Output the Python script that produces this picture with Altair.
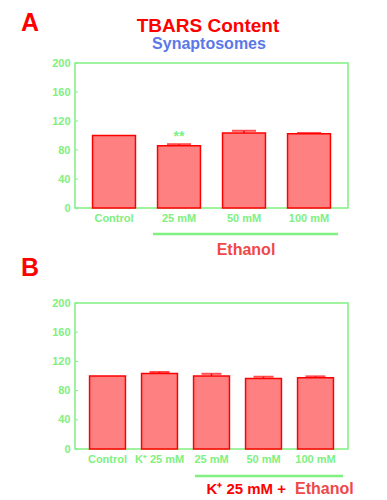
import altair as alt
import pandas as pd

# ---- data ----
a_groups = ["Control", "25 mM", "50 mM", "100 mM"]
a_values = [100, 86, 103.5, 102.5]
a_errors = [0, 2, 3, 1]

b_groups = ["Control", "K⁺ 25 mM", "25 mM", "50 mM", "100 mM"]
b_values = [100, 103.5, 100, 96.5, 97.5]
b_errors = [0, 2, 3, 2.5, 2]

y_ticks = [0, 40, 80, 120, 160, 200]

GREEN = "#80f080"
RED = "#ff0000"
FILL = "#ff8080"
SOFT_RED = "#f04848"
BLUE = "#5b78e8"
FONT = "Liberation Sans"

W = 273

X_AXIS = alt.Axis(labelAngle=0, ticks=False, domain=False, grid=False,
                  labelColor=GREEN, labelFontSize=11, labelFont=FONT,
                  labelFontWeight="bold", labelPadding=4, labelOverlap=False)
Y_AXIS = alt.Axis(values=y_ticks, ticks=False, domain=False, grid=False,
                  labelColor=GREEN, labelFontSize=11, labelFont=FONT,
                  labelFontWeight="bold", labelPadding=5, labelOverlap=False)
YS = alt.Scale(domain=[0, 200], nice=False)


def xenc(groups, pi, po):
    return alt.X("g:N", sort=groups, title=None,
                 scale=alt.Scale(paddingInner=pi, paddingOuter=po), axis=X_AXIS)


def yenc(field):
    return alt.Y(field, title=None, scale=YS, axis=Y_AXIS)


def panel(groups, values, errors, pi, po, cap):
    df = pd.DataFrame({"g": groups, "v": values, "e": errors})
    df["top"] = df["v"] + df["e"]
    base = alt.Chart(df)
    bars = base.mark_bar(fill=FILL, stroke=RED, strokeWidth=1.5).encode(
        x=xenc(groups, pi, po), y=yenc("v:Q"))
    err = base.transform_filter("datum.e > 0").mark_rule(color=RED, strokeWidth=1.5).encode(
        x=xenc(groups, pi, po), y=yenc("v:Q"), y2="top:Q")
    caps = base.transform_filter("datum.e > 0").mark_tick(color=RED, thickness=2, size=cap).encode(
        x=xenc(groups, pi, po), y=yenc("top:Q"))
    tick_df = pd.DataFrame({"t": y_ticks})
    inner_ticks = alt.Chart(tick_df).mark_rule(color=GREEN, strokeWidth=1).encode(
        y=yenc("t:Q"), x=alt.value(0), x2=alt.value(3))
    return [bars, err, caps, inner_ticks]


def label(text, x, y, size, color, weight="bold", align="center"):
    return alt.Chart(pd.DataFrame({"t": [text]})).mark_text(
        font=FONT, fontSize=size, fontWeight=weight, color=color,
        align=align, baseline="middle").encode(
        x=alt.value(x), y=alt.value(y), text="t:N")


# ---- panel A ----
layers_a = panel(a_groups, a_values, a_errors, 0.34, 0.27, 24)
stars = alt.Chart(pd.DataFrame({"g": ["25 mM"], "v": [98], "t": ["**"]})).mark_text(
    font=FONT, fontSize=14, fontWeight="bold", color=GREEN, baseline="middle").encode(
    x=xenc(a_groups, 0.34, 0.27), y=yenc("v:Q"), text="t:N")
anchor = alt.Chart(pd.DataFrame({"t": [0]})).mark_rule(strokeOpacity=0, strokeWidth=0.1).encode(
    x=alt.value(-66), x2=alt.value(-65), y=alt.value(-54))
line_a = alt.Chart(pd.DataFrame({"t": [0]})).mark_rule(color=GREEN, strokeWidth=2.5).encode(
    x=alt.value(78), x2=alt.value(263), y=alt.value(171))

panel_a = alt.layer(
    *layers_a, stars, anchor, line_a,
    label("A", -45, -40, 25, RED),
    label("TBARS Content", 133, -37, 19, RED),
    label("Synaptosomes", 134, -19, 16, BLUE),
    label("Ethanol", 171, 187, 16, SOFT_RED),
).properties(width=W, height=145)

# ---- panel B ----
layers_b = panel(b_groups, b_values, b_errors, 0.31, 0.28, 20)
line_b = alt.Chart(pd.DataFrame({"t": [0]})).mark_rule(color=GREEN, strokeWidth=2.5).encode(
    x=alt.value(120), x2=alt.value(268), y=alt.value(173))

panel_b = alt.layer(
    *layers_b, line_b,
    label("B", -45, -35, 25, RED),
    label("K⁺ 25 mM +", 211, 186, 15, RED, align="right"),
    label("Ethanol", 220, 186, 16, SOFT_RED, align="left"),
).properties(width=W, height=146)

chart = alt.vconcat(panel_a, panel_b, spacing=95, bounds="flush").properties(
    padding=0, background="white"
).configure_view(stroke=GREEN, strokeWidth=1.5)

chart.save("out.html", embed_options={"renderer": "svg", "actions": False})
